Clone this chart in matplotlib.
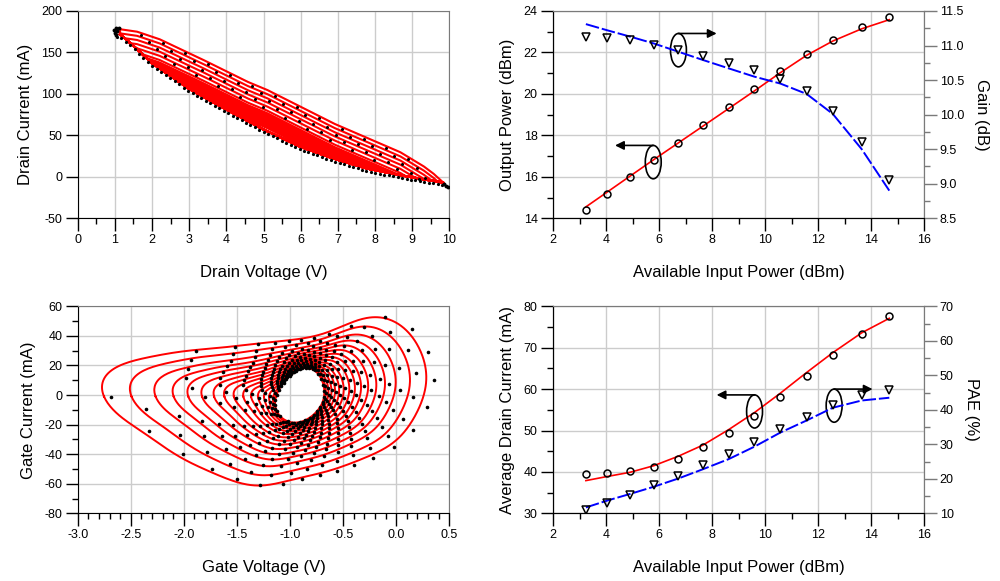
import numpy as np
import matplotlib
matplotlib.use("Agg")
import matplotlib.pyplot as plt
from matplotlib.patches import Ellipse
from matplotlib.ticker import MultipleLocator, FormatStrFormatter

plt.rcParams['font.family'] = ['Liberation Sans', 'DejaVu Sans']
plt.rcParams['axes.unicode_minus'] = False

# ---- power sweep (right panels) ----
pin = [3.24, 4.05, 4.90, 5.80, 6.73, 7.66, 8.62, 9.59, 10.57, 11.56, 12.55, 13.64, 14.68]
pout_meas = [14.39, 15.19, 15.98, 16.80, 17.65, 18.50, 19.37, 20.22, 21.09, 21.91, 22.62, 23.24, 23.73]
pout_sim = [14.55, 15.27, 16.03, 16.83, 17.64, 18.45, 19.29, 20.14, 21.02, 21.86, 22.55, 23.14, 23.58]
gain_meas = [11.13, 11.11, 11.08, 11.01, 10.93, 10.85, 10.75, 10.64, 10.51, 10.34, 10.05, 9.61, 9.05]
gain_sim = [11.31, 11.22, 11.13, 11.03, 10.91, 10.79, 10.67, 10.55, 10.45, 10.30, 10.01, 9.50, 8.90]
id_meas = [39.5, 39.7, 40.2, 41.3, 43.2, 46.0, 49.5, 53.4, 58.1, 63.1, 68.2, 73.2, 77.6]
id_sim = [37.9, 38.9, 39.9, 41.5, 43.8, 46.5, 50.2, 54.3, 59.0, 64.0, 68.8, 73.6, 77.1]
pae_meas = [10.97, 13.1, 15.3, 18.1, 20.8, 23.9, 27.1, 30.7, 34.3, 38.0, 41.5, 44.2, 45.8]
pae_sim = [11.7, 13.7, 15.6, 17.7, 20.1, 22.8, 25.7, 29.3, 33.4, 36.9, 40.6, 42.7, 43.5]

# ---- drain load lines (top left) ----
drain_up_v = [1.14, 1.6, 2.2, 3.29, 4.55, 5.09, 6.88, 8.67, 9.3, 9.57, 9.84]
drain_up_i = [178, 175, 166, 143, 115, 105, 64.5, 30, 13, 4, -7]
drain_lo_v = [1.14, 1.5, 2.0, 3.0, 4.0, 5.0, 6.0, 6.88, 7.78, 8.67, 9.3, 9.84]
drain_lo_i = [172, 158, 137, 106, 81, 57, 36, 22, 10, 2, -3, -7]
drain_offsets = [0, 5, 10, 15, 20, 25, 28, 29.5, 31, 32.5, 34, 35.5, 37, 38.5, 40, 41.5, 43, 44.5, 46]
drain_tip_v = [0.98, 1.02, 1.06, 1.00, 1.04, 1.10, 9.86, 9.92, 9.97]
drain_tip_i = [177, 179, 176, 173, 171, 179, -9, -11, -12]

# ---- gate current loops (bottom left) ----
gate_outer_v = [-2.79, -2.74, -2.62, -2.40, -2.13, -1.80, -1.53, -1.28, -1.00, -0.75, -0.50,
                -0.30, -0.18, -0.03, 0.10, 0.20, 0.27, 0.29, 0.26, 0.20, 0.13, 0.05, -0.08,
                -0.28, -0.59, -1.00, -1.22, -1.40, -1.60, -1.82, -2.10, -2.40, -2.62, -2.74]
gate_outer_i = [5.5, 14, 19.5, 24.5, 28.6, 31, 33, 35, 37, 40, 46.5,
                52, 53.5, 50, 44, 34, 22, 10, -1, -10, -20, -28, -35,
                -42, -50.7, -57.5, -61.5, -61, -56, -50.5, -39, -25, -13, -3]
gate_inner_v = [-1.15, -1.10, -1.02, -0.92, -0.83, -0.74, -0.68, -0.68, -0.74, -0.83, -0.93, -1.03, -1.11]
gate_inner_i = [-6, 5, 12, 17, 19, 15, 7, -3, -11, -16, -19, -18, -13]
gate_levels = [1.0, 0.84, 0.70, 0.595, 0.51, 0.43, 0.36, 0.30, 0.245, 0.19, 0.145, 0.105, 0.07, 0.04, 0.015, 0.0]

RED = '#ff0000'
BLUE = '#0000ff'
GRID = '#cccccc'
EDGE = '#7a7a7a'


def style(ax, xmaj, xmin, ymaj, ymin):
    ax.xaxis.set_major_locator(MultipleLocator(xmaj))
    ax.yaxis.set_major_locator(MultipleLocator(ymaj))
    if xmin:
        ax.xaxis.set_minor_locator(MultipleLocator(xmin))
    if ymin:
        ax.yaxis.set_minor_locator(MultipleLocator(ymin))
    ax.grid(True, which='major', color=GRID, lw=1)
    ax.set_axisbelow(True)
    for s in ['top', 'right']:
        ax.spines[s].set_color(EDGE)
    ax.tick_params(which='major', direction='out', length=9, width=1, labelsize=9, pad=2)
    ax.tick_params(which='minor', direction='out', length=4.5, width=1)


def style_right(ax2, maj, mnr):
    ax2.yaxis.set_major_locator(MultipleLocator(maj))
    ax2.yaxis.set_minor_locator(MultipleLocator(mnr))
    ax2.spines['right'].set_color(EDGE)
    ax2.spines['top'].set_color(EDGE)
    ax2.tick_params(which='major', direction='out', length=9, width=1, labelsize=9, pad=2,
                    color=EDGE)
    ax2.tick_params(which='minor', direction='out', length=4.5, width=1, color=EDGE)


def callout(ax, cx, cy, h, x_end):
    ax.add_patch(Ellipse((cx, cy), 0.6, h, fill=False, ec='k', lw=1.2, zorder=6))
    ax.annotate('', xy=(x_end, cy + h / 2), xytext=(cx, cy + h / 2),
                arrowprops=dict(arrowstyle='-|>', color='k', lw=1.2, mutation_scale=13,
                                shrinkA=0, shrinkB=0), zorder=6)


fig = plt.figure(figsize=(10, 5.81), dpi=100)

# ================= top left: drain current vs drain voltage =================
ax = fig.add_axes([0.0777, 0.6243, 0.3716, 0.3568])
vv = np.linspace(drain_up_v[0], drain_up_v[-1], 400)
up = np.interp(vv, drain_up_v, drain_up_i)
lo = np.interp(vv, drain_lo_v, drain_lo_i)
for d in drain_offsets[::-1]:
    top = np.maximum(up - d, lo)
    ax.plot(np.r_[vv, vv[::-1], vv[0]], np.r_[top, lo[::-1], top[0]], color=RED, lw=1.5, zorder=3)

# measured points: along the lower edge, in the gaps and at both tips
vd = np.arange(1.05, 9.9, 0.12)
ax.plot(vd, np.interp(vd, drain_lo_v, drain_lo_i) - 3, 'o', color='k', ms=2.3, mew=0, zorder=4)
for k in range(5):
    vg = np.arange(1.7 + 0.22 * k, 9.4, 0.6)
    ig = np.maximum(np.interp(vg, drain_up_v, drain_up_i) - drain_offsets[k] - 2.5,
                    np.interp(vg, drain_lo_v, drain_lo_i))
    ax.plot(vg, ig, 'o', color='k', ms=2.2, mew=0, zorder=4)
ax.plot(drain_tip_v, drain_tip_i, 'o', color='k', ms=2.8, mew=0, zorder=4)

ax.set_xlim(0, 10)
ax.set_ylim(-50, 200)
style(ax, 1, 0.5, 50, None)
ax.set_xlabel('Drain Voltage (V)', fontsize=12, labelpad=14)
ax.set_ylabel('Drain Current (mA)', fontsize=12, labelpad=6)

# ================= top right: output power & gain =================
ax = fig.add_axes([0.553, 0.6243, 0.3713, 0.3568])
ax2 = ax.twinx()
ax.plot(pin, pout_sim, color=RED, lw=1.2, zorder=3)
ax.plot(pin, pout_meas, 'o', mfc='none', mec='k', ms=5, mew=1.1, zorder=4)
ax2.plot(pin, gain_sim, color=BLUE, lw=1.4, dashes=(7, 1.5))
ax2.plot(pin, gain_meas, 'v', mfc='none', mec='k', ms=5.5, mew=1.1)
ax.set_xlim(2, 16)
ax.set_ylim(14, 24)
ax2.set_ylim(8.5, 11.5)
style(ax, 2, 1, 2, 1)
style_right(ax2, 0.5, 0.25)
ax2.yaxis.set_major_formatter(FormatStrFormatter('%.1f'))
callout(ax, 5.78, 16.71, 1.61, 4.34)
callout(ax, 6.73, 22.11, 1.61, 8.17)
ax.set_xlabel('Available Input Power (dBm)', fontsize=12, labelpad=14)
ax.set_ylabel('Output Power (dBm)', fontsize=12, labelpad=6)
ax2.set_ylabel('Gain (dB)', fontsize=12, rotation=270, labelpad=18)

# ================= bottom left: gate current vs gate voltage =================
ax = fig.add_axes([0.0777, 0.1165, 0.3716, 0.3563])
gate_vc, gate_ic, ma_per_v = -0.92, -1.0, 72.0
theta = np.linspace(-np.pi, np.pi, 720, endpoint=False)


def radius(v, i, nh):
    # smooth the closed contour, then express it as radius vs angle round the centre
    x = np.r_[v, v[0]] - gate_vc
    y = (np.r_[i, i[0]] - gate_ic) / ma_per_v
    s = np.r_[0, np.cumsum(np.hypot(np.diff(x), np.diff(y)))]
    su = np.linspace(0, s[-1], 512, endpoint=False)
    z = np.fft.fft(np.interp(su, s, x) + 1j * np.interp(su, s, y))
    z[nh + 1:-nh] = 0
    z = np.fft.ifft(z)
    return np.interp(theta, np.angle(z), np.abs(z), period=2 * np.pi)


r_out = radius(gate_outer_v, gate_outer_i, 11)
r_in = radius(gate_inner_v, gate_inner_i, 4)
for k, f in enumerate(gate_levels):
    r = r_in + f * (r_out - r_in)
    gv = gate_vc + r * np.cos(theta)
    gi = gate_ic + r * np.sin(theta) * ma_per_v
    ax.plot(np.r_[gv, gv[0]], np.r_[gi, gi[0]], color=RED, lw=1.4, zorder=3)
    idx = (np.arange(28) * (theta.size // 28) + k * 9) % theta.size
    ax.plot(gv[idx] + 0.07 * f, gi[idx], 'o', color='k', ms=2.6, mew=0, zorder=4)

ax.set_xlim(-3.0, 0.5)
ax.set_ylim(-80, 60)
style(ax, 0.5, 0.1, 20, 10)
ax.xaxis.set_major_formatter(FormatStrFormatter('%.1f'))
ax.set_xlabel('Gate Voltage (V)', fontsize=12, labelpad=14)
ax.set_ylabel('Gate Current (mA)', fontsize=12, labelpad=6)

# ================= bottom right: drain current & PAE =================
ax = fig.add_axes([0.553, 0.1165, 0.3713, 0.3563])
ax2 = ax.twinx()
ax.plot(pin, id_sim, color=RED, lw=1.2, zorder=3)
ax.plot(pin, id_meas, 'o', mfc='none', mec='k', ms=5, mew=1.1, zorder=4)
ax2.plot(pin, pae_sim, color=BLUE, lw=1.4, dashes=(7, 1.5))
ax2.plot(pin, pae_meas, 'v', mfc='none', mec='k', ms=5.5, mew=1.1)
ax.set_xlim(2, 16)
ax.set_ylim(30, 80)
ax2.set_ylim(10, 70)
style(ax, 2, 1, 10, 5)
style_right(ax2, 10, 5)
callout(ax, 9.60, 54.6, 8.0, 8.17)
callout(ax, 12.60, 56.0, 8.0, 14.05)
ax.set_xlabel('Available Input Power (dBm)', fontsize=12, labelpad=14)
ax.set_ylabel('Average Drain Current (mA)', fontsize=12, labelpad=6)
ax2.set_ylabel('PAE (%)', fontsize=12, rotation=270, labelpad=18)

fig.savefig('out.png', dpi=100)
